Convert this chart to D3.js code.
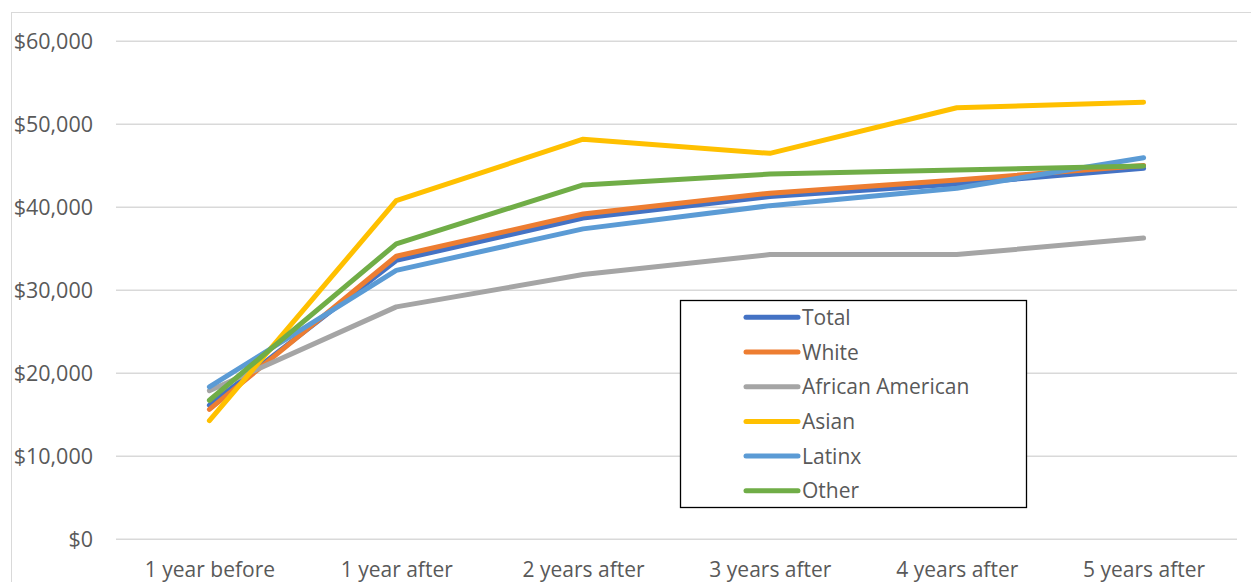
<!DOCTYPE html>
<html><head><meta charset="utf-8">
<script src="https://cdn.jsdelivr.net/npm/d3@7"></script>
<style>body{margin:0;background:#fff;}svg{display:block;font-family:"Open Sans", sans-serif;}</style>
</head><body>
<svg id="c" width="1251" height="582"></svg>
<script>
const categories = ["1 year before","1 year after","2 years after","3 years after","4 years after","5 years after"];
const seriesNames = ["Total","White","African American","Asian","Latinx","Other"];
const seriesColors = ["#4472C4","#ED7D31","#A5A5A5","#FFC000","#5B9BD5","#70AD47"];
const total    = [16150, 33600, 38700, 41300, 42800, 44700];
const white    = [15650, 34100, 39200, 41700, 43300, 45050];
const africanAmerican = [17900, 28000, 31900, 34300, 34300, 36300];
const asian    = [14300, 40800, 48200, 46500, 52000, 52650];
const latinx   = [18350, 32400, 37400, 40200, 42300, 45980];
const other    = [16750, 35600, 42700, 44000, 44500, 44980];
const yTicks = [0,10000,20000,30000,40000,50000,60000];

const seriesValues = [total, white, africanAmerican, asian, latinx, other];

const svg = d3.select("#c");
const plotLeft = 116, plotRight = 1237, plotTop = 41.3, plotBottom = 539.3;
const FONT = '"Open Sans", sans-serif';

// chart frame
svg.append("line").attr("x1",11).attr("x2",1251).attr("y1",12.5).attr("y2",12.5).attr("stroke","#d9d9d9").attr("stroke-width",1);
svg.append("line").attr("x1",11.5).attr("x2",11.5).attr("y1",12).attr("y2",582).attr("stroke","#d9d9d9").attr("stroke-width",1);

const x = d3.scalePoint().domain(categories).range([plotLeft, plotRight]).padding(0.5);
const y = d3.scaleLinear().domain([0,60000]).range([plotBottom, plotTop]);

// gridlines
svg.append("g").selectAll("line").data(yTicks).join("line")
  .attr("x1",plotLeft).attr("x2",plotRight)
  .attr("y1",d=>y(d)).attr("y2",d=>y(d))
  .attr("stroke","#d9d9d9").attr("stroke-width",1.6);

// y axis labels
const fmt = d3.format(",");
const yAxis = d3.axisLeft(y).tickValues(yTicks).tickSize(0).tickPadding(23).tickFormat(d=>"$"+fmt(d));
const gy = svg.append("g").attr("transform",`translate(${plotLeft},0)`).call(yAxis);
gy.select(".domain").remove();
gy.selectAll("text").attr("fill","#595959").style("font-size","21.5px").style("font-family",FONT);

// x axis labels
const xAxis = d3.axisBottom(x).tickSize(0).tickPadding(23);
const gx = svg.append("g").attr("transform",`translate(0,${plotBottom})`).call(xAxis);
gx.select(".domain").remove();
gx.selectAll("text").attr("fill","#595959").style("font-size","21px").style("font-family",FONT);

// lines
const line = d3.line().x((d,i)=>x(categories[i])).y(d=>y(d));
seriesValues.forEach((vals,i)=>{
  svg.append("path").datum(vals).attr("d",line)
    .attr("fill","none").attr("stroke",seriesColors[i]).attr("stroke-width",5)
    .attr("stroke-linecap","round").attr("stroke-linejoin","round");
});

// legend
const lg = svg.append("g");
lg.append("rect").attr("x",680.5).attr("y",300.5).attr("width",346).attr("height",207)
  .attr("fill","#fff").attr("stroke","#000").attr("stroke-width",1.3);
seriesNames.forEach((n,i)=>{
  const yy = 317.3 + i*34.7;
  lg.append("line").attr("x1",746).attr("x2",798).attr("y1",yy).attr("y2",yy)
    .attr("stroke",seriesColors[i]).attr("stroke-width",5).attr("stroke-linecap","round");
  lg.append("text").attr("x",802).attr("y",yy).attr("dy","0.36em")
    .attr("fill","#595959").style("font-size","21px").style("font-family",FONT).text(n);
});
</script>
</body></html>
